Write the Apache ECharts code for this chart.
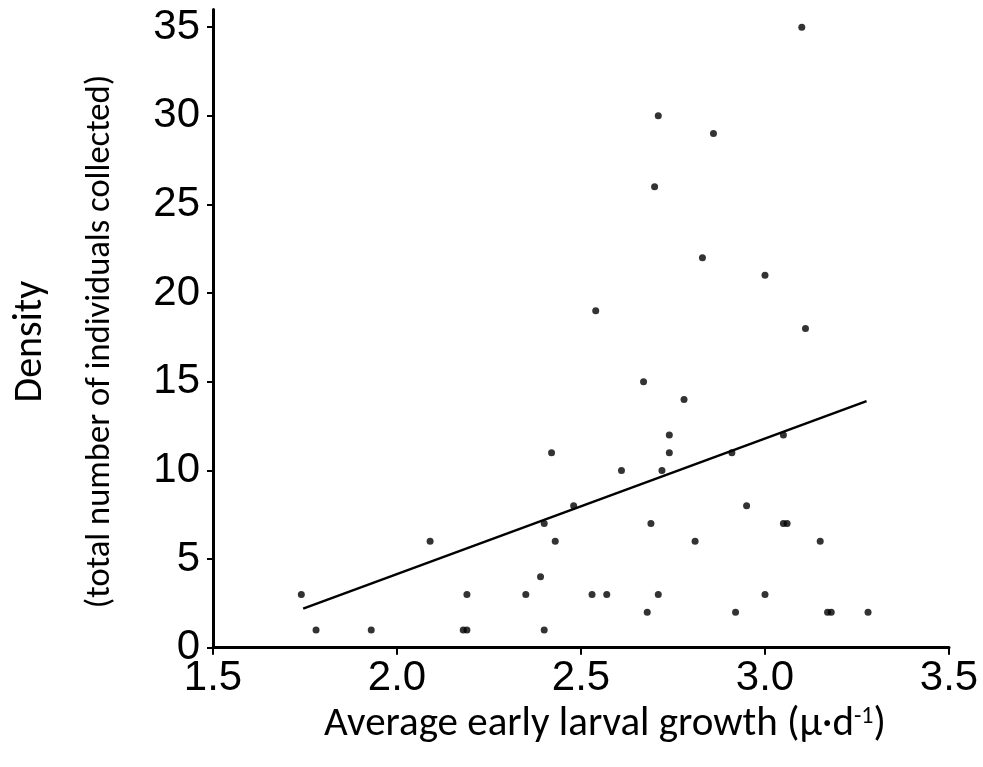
<!DOCTYPE html>
<html>
<head>
<meta charset="utf-8">
<script src="https://cdn.jsdelivr.net/npm/echarts@6/dist/echarts.min.js"></script>
<style>
  html, body { margin: 0; padding: 0; background: #fff; }
  #chart { width: 983px; height: 767px; }
</style>
</head>
<body>
<div id="chart"></div>
<script>
// growth (x) and density (y) of each sampled site
const growth = [
    2.54, 3.10, 2.71, 2.86, 2.70, 2.83, 3.00, 3.11,
    2.42, 2.48, 2.40, 2.09, 2.43, 2.39, 1.74, 2.19, 2.35, 2.53,
    1.78, 1.93, 2.18, 2.19, 2.40,
    2.67, 2.78, 2.74, 2.74, 2.61, 2.72, 2.91, 3.05, 2.95, 2.69,
    3.05, 3.06, 2.81, 3.15, 2.57, 2.71, 3.00, 2.68, 2.92, 3.17, 3.18, 3.28
];
const density = [
    19, 35, 30, 29, 26, 22, 21, 18,
    11, 8, 7, 6, 6, 4, 3, 3, 3, 3,
    1, 1, 1, 1, 1,
    15, 14, 12, 11, 10, 10, 11, 12, 8, 7,
    7, 7, 6, 6, 3, 3, 3, 2, 2, 2, 2, 2
];
// fitted regression line ends
const trendX = [1.745, 3.276];
const trendY = [2.2, 13.91];

const yTicks = [0, 5, 10, 15, 20, 25, 30, 35];

const tickFont = '"Liberation Sans", Arial, sans-serif';
const titleFont = 'Carlito, Lato, sans-serif';

const chart = echarts.init(document.getElementById('chart'));
chart.setOption({
    animation: false,
    backgroundColor: '#fff',
    grid: { left: 213, right: 34, top: 9.4, bottom: 767 - 647.7 },
    xAxis: {
        type: 'value',
        min: 1.5,
        max: 3.5,
        interval: 0.5,
        splitLine: { show: false },
        axisLine: { lineStyle: { color: '#000', width: 3 } },
        axisTick: { length: 7, lineStyle: { color: '#000', width: 2 } },
        axisLabel: {
            margin: 10,
            color: '#000',
            fontFamily: tickFont,
            fontSize: 42,
            formatter: v => v.toFixed(1),
        },
        name: 'Average early larval growth (µ·d{sup|-1})',
        nameLocation: 'middle',
        nameGap: 52,
        nameTextStyle: {
            color: '#000',
            fontFamily: titleFont,
            fontSize: 41,
            padding: [0, 0, 0, 48],
            rich: {
                sup: { fontFamily: titleFont, fontSize: 24, verticalAlign: 'top', lineHeight: 30, color: '#000' },
            },
        },
    },
    yAxis: {
        type: 'value',
        min: 0,
        max: 36,
        interval: 5,
        splitLine: { show: false },
        axisLine: { lineStyle: { color: '#000', width: 3 } },
        axisTick: { length: 6, lineStyle: { color: '#000', width: 2 }, customValues: yTicks },
        axisLabel: {
            margin: 13,
            color: '#000',
            fontFamily: tickFont,
            fontSize: 42,
            customValues: yTicks,
        },
        name: '{a|Density}\n{b|(total number of individuals collected)}',
        nameLocation: 'middle',
        nameRotate: 90,
        nameGap: 84,
        nameTextStyle: {
            color: '#000',
            padding: [0, 26, 0, 0],
            rich: {
                a: { fontFamily: titleFont, fontSize: 40, lineHeight: 80, color: '#000' },
                b: { fontFamily: titleFont, fontSize: 34.5, lineHeight: 58, color: '#000' },
            },
        },
    },
    series: [
        {
            type: 'scatter',
            data: growth.map((g, i) => [g, density[i]]),
            symbol: 'circle',
            symbolSize: 7,
            itemStyle: { color: '#000' },
        },
        {
            type: 'line',
            data: trendX.map((x, i) => [x, trendY[i]]),
            symbol: 'none',
            lineStyle: { color: '#000', width: 2.5 },
        },
    ],
});
</script>
</body>
</html>
